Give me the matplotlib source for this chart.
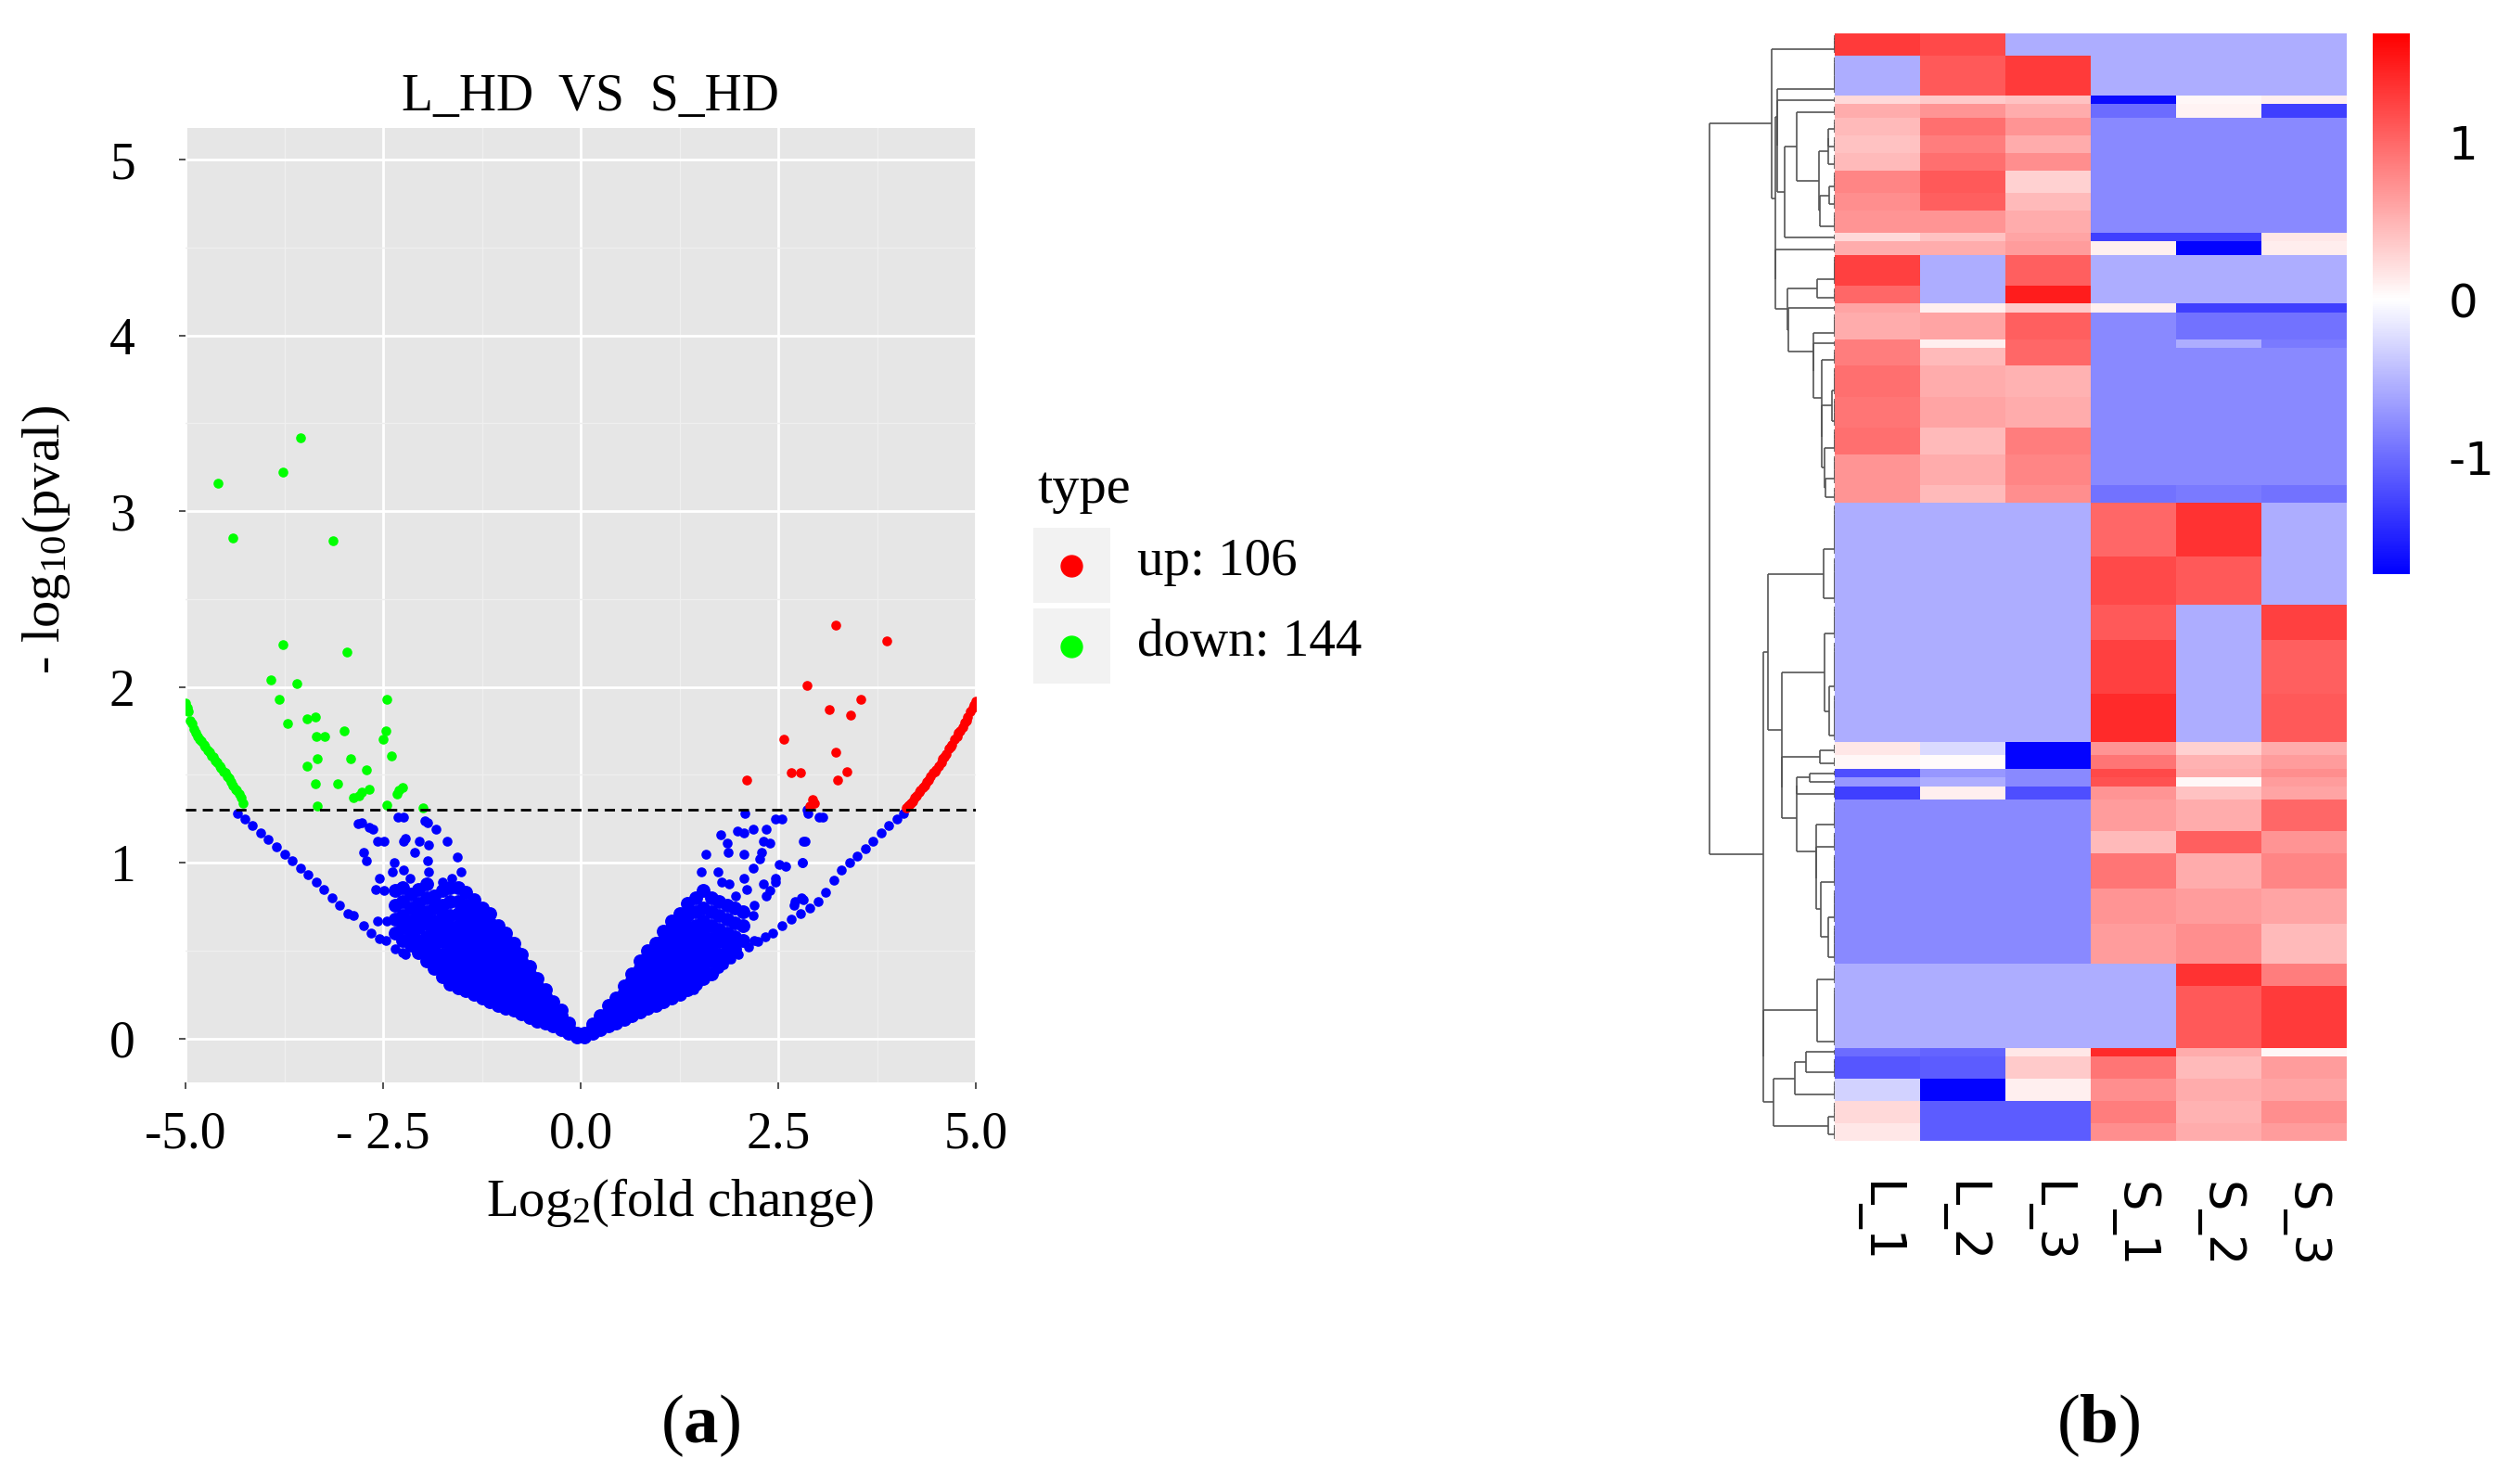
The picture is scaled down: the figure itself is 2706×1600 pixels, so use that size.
import numpy as np
import matplotlib
matplotlib.use('Agg')
import matplotlib.pyplot as plt
from matplotlib.colors import LinearSegmentedColormap, Normalize
from matplotlib.collections import LineCollection
from matplotlib.patches import Rectangle
from matplotlib.lines import Line2D

plt.rcParams['font.family'] = ['Liberation Serif', 'DejaVu Serif']
plt.rcParams['mathtext.fontset'] = 'custom'
plt.rcParams['mathtext.rm'] = 'Liberation Serif'
plt.rcParams['mathtext.it'] = 'Liberation Serif:italic'
plt.rcParams['mathtext.bf'] = 'Liberation Serif:bold'
plt.rcParams['axes.unicode_minus'] = False

# ---------------- volcano data ----------------
n_up, n_down = 106, 144
threshold = 1.301

down_x = [-4.59, -4.40, -3.77, -3.54, -3.13, -3.77, -2.96, -3.92, -3.59, -2.45, -3.82, -3.71,
          -3.46, -3.36, -3.34, -3.24, -2.99, -2.46, -2.50, -2.40, -3.46, -3.33, -2.91, -2.71,
          -3.36, -3.08, -2.87, -2.80, -2.77, -2.68, -2.45, -2.32, -2.30, -2.25, -3.33, -2.00]
down_y = [3.16, 2.85, 3.22, 3.42, 2.83, 2.24, 2.20, 2.04, 2.02, 1.93, 1.93, 1.79,
          1.82, 1.83, 1.72, 1.72, 1.75, 1.75, 1.70, 1.61, 1.55, 1.59, 1.59, 1.53,
          1.45, 1.45, 1.37, 1.38, 1.40, 1.42, 1.33, 1.39, 1.41, 1.43, 1.32, 1.31]
down_arc_x = [-5.00, -4.98, -4.97, -4.94, -4.92, -4.90, -4.87, -4.85, -4.82, -4.80, -4.77, -4.75,
              -4.72, -4.70, -4.67, -4.65, -4.62, -4.60, -4.57, -4.55, -4.52, -4.50, -4.47,
              -4.45, -4.42, -4.40, -4.37, -4.35, -4.32, -4.30, -4.27]
down_arc_y = [1.91, 1.88, 1.86, 1.81, 1.79, 1.76, 1.74, 1.72, 1.70, 1.69, 1.67, 1.66,
              1.64, 1.63, 1.61, 1.60, 1.58, 1.57, 1.55, 1.54, 1.52, 1.51, 1.49,
              1.48, 1.46, 1.44, 1.42, 1.41, 1.39, 1.37, 1.34]

up_x = [3.23, 3.87, 2.86, 3.54, 3.15, 3.42, 2.57, 3.23, 2.67, 2.78, 3.37, 3.25, 2.10, 2.96, 2.90, 2.94]
up_y = [2.35, 2.26, 2.01, 1.93, 1.87, 1.84, 1.70, 1.63, 1.51, 1.51, 1.52, 1.47, 1.47, 1.34, 1.32, 1.36]
up_arc_x = [4.12, 4.14, 4.16, 4.18, 4.20, 4.23, 4.25, 4.28, 4.30, 4.33, 4.36, 4.38, 4.40, 4.43,
            4.46, 4.48, 4.50, 4.53, 4.56, 4.58, 4.60, 4.63, 4.66, 4.68, 4.70, 4.73, 4.76,
            4.78, 4.80, 4.83, 4.86, 4.88, 4.90, 4.93, 4.96, 4.98, 5.00]
up_arc_y = [1.31, 1.32, 1.33, 1.34, 1.35, 1.37, 1.38, 1.40, 1.41, 1.43, 1.44, 1.46, 1.47, 1.49,
            1.51, 1.52, 1.53, 1.55, 1.57, 1.59, 1.60, 1.62, 1.65, 1.66, 1.67, 1.70, 1.72,
            1.74, 1.75, 1.77, 1.80, 1.81, 1.83, 1.86, 1.88, 1.90, 1.92]

# dense blue cones, one list of y values per x column
cone_left_x = [-0.05, -0.15, -0.25, -0.35, -0.45, -0.55, -0.65, -0.75, -0.85, -0.95, -1.05, -1.15,
               -1.25, -1.35, -1.45, -1.55, -1.65, -1.75, -1.85, -1.95, -2.05, -2.15, -2.25, -2.35]
cone_left_y = [
    [0.01, 0.03],
    [0.03, 0.06, 0.09],
    [0.05, 0.09, 0.13, 0.16],
    [0.07, 0.11, 0.16, 0.21],
    [0.09, 0.14, 0.19, 0.24, 0.28],
    [0.10, 0.15, 0.20, 0.25, 0.30, 0.34],
    [0.12, 0.17, 0.22, 0.27, 0.32, 0.37, 0.41],
    [0.14, 0.19, 0.24, 0.29, 0.34, 0.39, 0.44, 0.48],
    [0.16, 0.21, 0.26, 0.31, 0.36, 0.41, 0.46, 0.51, 0.54],
    [0.17, 0.22, 0.27, 0.32, 0.37, 0.42, 0.47, 0.52, 0.57, 0.60],
    [0.19, 0.24, 0.29, 0.34, 0.39, 0.44, 0.49, 0.54, 0.59, 0.64],
    [0.21, 0.26, 0.31, 0.36, 0.41, 0.46, 0.51, 0.56, 0.61, 0.66, 0.71],
    [0.23, 0.28, 0.33, 0.38, 0.43, 0.48, 0.53, 0.58, 0.63, 0.68, 0.74],
    [0.25, 0.30, 0.35, 0.40, 0.45, 0.50, 0.55, 0.60, 0.66, 0.72, 0.79],
    [0.27, 0.32, 0.38, 0.44, 0.50, 0.56, 0.62, 0.69, 0.76, 0.83],
    [0.29, 0.34, 0.40, 0.46, 0.52, 0.58, 0.64, 0.71, 0.78, 0.86],
    [0.31, 0.37, 0.43, 0.50, 0.57, 0.63, 0.70, 0.78, 0.86],
    [0.35, 0.41, 0.48, 0.55, 0.62, 0.69, 0.76, 0.84],
    [0.40, 0.46, 0.53, 0.60, 0.67, 0.74, 0.81],
    [0.44, 0.51, 0.58, 0.65, 0.72, 0.80, 0.88],
    [0.49, 0.56, 0.63, 0.70, 0.77, 0.85],
    [0.53, 0.60, 0.67, 0.74, 0.82],
    [0.56, 0.63, 0.70, 0.78, 0.86],
    [0.60, 0.68, 0.76, 0.84],
]
cone_right_x = [0.05, 0.15, 0.25, 0.35, 0.45, 0.55, 0.65, 0.75, 0.85, 0.95, 1.05,
                1.15, 1.25, 1.35, 1.45, 1.55, 1.65, 1.75, 1.85, 1.95, 2.05]
cone_right_y = [
    [0.01, 0.03],
    [0.03, 0.06, 0.08],
    [0.05, 0.09, 0.13],
    [0.07, 0.11, 0.15, 0.19],
    [0.09, 0.13, 0.18, 0.23],
    [0.11, 0.16, 0.21, 0.26, 0.30],
    [0.13, 0.18, 0.23, 0.28, 0.33, 0.37],
    [0.15, 0.20, 0.25, 0.30, 0.35, 0.40, 0.44],
    [0.17, 0.22, 0.27, 0.32, 0.37, 0.42, 0.47, 0.50],
    [0.19, 0.24, 0.29, 0.34, 0.39, 0.44, 0.49, 0.54],
    [0.21, 0.26, 0.31, 0.36, 0.41, 0.46, 0.51, 0.56, 0.61],
    [0.23, 0.28, 0.33, 0.38, 0.43, 0.48, 0.53, 0.58, 0.63, 0.67],
    [0.25, 0.30, 0.35, 0.40, 0.45, 0.50, 0.55, 0.60, 0.65, 0.71],
    [0.28, 0.33, 0.38, 0.43, 0.48, 0.53, 0.58, 0.63, 0.70, 0.77],
    [0.31, 0.36, 0.41, 0.46, 0.52, 0.58, 0.64, 0.72, 0.80],
    [0.34, 0.40, 0.46, 0.53, 0.60, 0.67, 0.74, 0.84],
    [0.37, 0.44, 0.50, 0.57, 0.64, 0.72, 0.80],
    [0.42, 0.48, 0.55, 0.62, 0.70, 0.78],
    [0.46, 0.53, 0.60, 0.68, 0.76],
    [0.51, 0.58, 0.66, 0.74],
    [0.56, 0.64, 0.72],
]
# scattered non-significant genes and the two "zero count" arcs
ns_x = [-2.77, -2.63, -2.57, -2.49, -2.75, -2.71, -2.24, -2.24, -2.04, -2.10, -1.94, -1.83,
        -1.69, -1.56, -1.94, -2.36, -2.38, -2.24, -2.16, -2.55, -2.59, -2.49, -1.92, -1.75,
        -1.63, -1.51, -2.57, -2.45, -2.10, -1.96, -2.82, -2.68, -2.31, -2.22, -1.97, -1.93,
        2.08, 1.77, 1.98, 2.06, 2.18, 2.35, 2.47, 2.55, 1.85, 1.87, 1.59, 2.06, 2.31, 2.39,
        2.29, 2.27, 1.53, 1.74, 1.78, 2.18, 2.51, 2.59, 2.47, 2.47, 2.31, 2.06, 1.88, 1.96,
        2.10, 2.39, 2.35, 2.82, 2.80, 2.70, 2.82, 3.02, 2.86, 2.20, 2.18, 2.20, 1.43, 1.69,
        2.88, 3.06, 2.84, 2.81, 2.71, 2.79]
ns_y = [1.23, 1.19, 1.12, 1.12, 1.06, 1.01, 1.26, 1.12, 1.12, 1.06, 1.23, 1.19,
        1.12, 1.03, 1.01, 1.00, 0.95, 0.96, 0.91, 0.91, 0.85, 0.84, 0.95, 0.89,
        0.91, 0.95, 0.67, 0.67, 0.52, 0.52, 1.22, 1.20, 1.26, 1.14, 1.24, 1.10,
        1.28, 1.16, 1.18, 1.17, 1.19, 1.19, 1.25, 1.25, 1.11, 1.06, 1.05, 1.05, 1.12, 1.11,
        1.06, 1.02, 0.95, 0.95, 0.89, 0.97, 0.99, 0.98, 0.91, 0.89, 0.88, 0.91, 0.88, 0.81,
        0.85, 0.84, 0.81, 1.12, 1.00, 0.76, 0.79, 1.26, 1.30, 0.76, 0.70, 0.56, 0.28, 0.58,
        1.28, 1.26, 1.12, 1.00, 0.78, 0.80]
arc_left_x = [-4.34, -4.25, -4.15, -4.05, -3.95, -3.85, -3.75, -3.65, -3.55, -3.45, -3.35,
              -3.25, -3.15, -3.05, -2.95, -2.87, -2.75, -2.65, -2.55, -2.47, -2.35, -2.25, -2.22]
arc_left_y = [1.28, 1.25, 1.21, 1.17, 1.13, 1.09, 1.05, 1.01, 0.97, 0.93, 0.89,
              0.85, 0.80, 0.76, 0.71, 0.70, 0.64, 0.60, 0.57, 0.56, 0.51, 0.49, 0.48]
arc_right_x = [1.69, 1.75, 1.81, 1.90, 2.00, 2.12, 2.24, 2.34, 2.43, 2.55, 2.67, 2.78, 2.90,
               3.00, 3.10, 3.20, 3.30, 3.40, 3.50, 3.60, 3.70, 3.80, 3.90, 4.00, 4.08]
arc_right_y = [0.38, 0.40, 0.42, 0.45, 0.48, 0.52, 0.55, 0.58, 0.60, 0.64, 0.68, 0.71, 0.74,
               0.78, 0.83, 0.90, 0.96, 1.00, 1.04, 1.08, 1.12, 1.17, 1.21, 1.25, 1.28]

x_ticks = [-5.0, -2.5, 0.0, 2.5, 5.0]
x_tick_labels = ['-5.0', '- 2.5', '0.0', '2.5', '5.0']
y_ticks = [0, 1, 2, 3, 4, 5]

# ---------------- heatmap data: row bands (row count, L_1..S_3) ----------------
samples = ['L_1', 'L_2', 'L_3', 'S_1', 'S_2', 'S_3']
band_rows = [5, 9, 2, 3, 4, 4, 4, 5, 4, 5, 2, 3, 7, 4, 2, 6, 2, 4, 7, 7, 6, 7, 4,
             12, 11, 8, 12, 11, 3, 3, 2, 2, 3, 7, 5, 8, 8, 9, 5, 14, 2, 5, 5, 5, 4]
band_values = [
    [1.30, 1.20, -0.55, -0.55, -0.55, -0.55],
    [-0.55, 1.10, 1.30, -0.55, -0.55, -0.55],
    [0.25, 0.35, 0.40, -1.65, 0.05, 0.10],
    [0.55, 0.70, 0.55, -1.00, 0.08, -1.30],
    [0.45, 0.95, 0.70, -0.80, -0.80, -0.80],
    [0.40, 0.85, 0.55, -0.80, -0.80, -0.80],
    [0.45, 0.95, 0.75, -0.80, -0.80, -0.80],
    [0.80, 1.10, 0.30, -0.80, -0.80, -0.80],
    [0.75, 1.05, 0.45, -0.80, -0.80, -0.80],
    [0.70, 0.70, 0.55, -0.80, -0.80, -0.80],
    [0.25, 0.40, 0.60, -1.30, -1.30, 0.15],
    [0.55, 0.55, 0.65, 0.10, -1.70, 0.12],
    [1.25, -0.55, 1.05, -0.55, -0.55, -0.55],
    [1.00, -0.55, 1.50, -0.55, -0.55, -0.55],
    [0.60, 0.10, 0.35, 0.10, -1.30, -1.30],
    [0.55, 0.60, 1.05, -0.80, -0.95, -0.95],
    [0.85, 0.10, 1.00, -0.80, -0.55, -0.90],
    [0.85, 0.45, 1.00, -0.80, -0.80, -0.80],
    [0.95, 0.55, 0.50, -0.80, -0.80, -0.80],
    [0.90, 0.60, 0.55, -0.80, -0.80, -0.80],
    [0.95, 0.45, 0.85, -0.80, -0.80, -0.80],
    [0.70, 0.55, 0.80, -0.80, -0.80, -0.80],
    [0.70, 0.45, 0.75, -0.95, -0.90, -0.95],
    [-0.55, -0.55, -0.55, 1.00, 1.35, -0.55],
    [-0.55, -0.55, -0.55, 1.20, 1.10, -0.55],
    [-0.55, -0.55, -0.55, 1.10, -0.55, 1.25],
    [-0.55, -0.55, -0.55, 1.25, -0.55, 1.05],
    [-0.55, -0.55, -0.55, 1.40, -0.55, 1.10],
    [0.15, -0.25, -1.70, 0.70, 0.30, 0.55],
    [0.05, 0.02, -1.70, 0.90, 0.50, 0.65],
    [-1.20, -0.70, -0.80, 1.20, 0.55, 0.75],
    [-0.70, -0.55, -0.80, 1.15, 0.05, 0.65],
    [-1.30, 0.10, -1.20, 0.70, 0.40, 0.60],
    [-0.80, -0.80, -0.80, 0.65, 0.55, 1.00],
    [-0.80, -0.80, -0.80, 0.45, 1.05, 0.70],
    [-0.80, -0.80, -0.80, 0.90, 0.55, 0.80],
    [-0.80, -0.80, -0.80, 0.70, 0.65, 0.60],
    [-0.80, -0.80, -0.80, 0.65, 0.75, 0.45],
    [-0.55, -0.55, -0.55, -0.55, 1.35, 0.85],
    [-0.55, -0.55, -0.55, -0.55, 1.10, 1.30],
    [-1.00, -1.05, 0.15, 1.40, 0.55, 0.05],
    [-1.15, -1.10, 0.35, 0.90, 0.45, 0.65],
    [-0.30, -1.70, 0.10, 0.75, 0.55, 0.60],
    [0.25, -1.10, -1.10, 0.85, 0.50, 0.75],
    [0.15, -1.10, -1.10, 0.75, 0.55, 0.65],
]
cbar_min, cbar_max = -1.74, 1.69

# ---------------- figure ----------------
W, H = 2706, 1600


def fx(px):
    return px / W


def fy(py):
    return 1 - py / H


fig = plt.figure(figsize=(W / 100, H / 100), dpi=100)

# (a) volcano plot
ax = fig.add_axes([fx(200), fy(1167), fx(1052) - fx(200), fy(138) - fy(1167)])
ax.set_facecolor('#E6E6E6')
ax.set_xlim(-5, 5)
ax.set_ylim(-0.25, 5.18)
ax.set_xticks(x_ticks)
ax.set_xticklabels(x_tick_labels)
ax.set_yticks(y_ticks)
ax.set_xticks([-3.75, -1.25, 1.25, 3.75], minor=True)
ax.set_yticks([0.5, 1.5, 2.5, 3.5, 4.5], minor=True)
ax.grid(which='major', color='white', lw=2)
ax.grid(which='minor', color='#EFEFEF', lw=1)
ax.set_axisbelow(True)
for s in ax.spines.values():
    s.set_visible(False)
ax.tick_params(which='major', length=5, width=1.2, color='#333333', labelsize=40)
ax.tick_params(which='minor', length=0)
ax.tick_params(axis='x', pad=17)
ax.tick_params(axis='y', pad=34)

cone_x = [x for x, ys in zip(cone_left_x + cone_right_x, cone_left_y + cone_right_y) for _ in ys]
cone_y = [y for ys in cone_left_y + cone_right_y for y in ys]
blue_x = ns_x + arc_left_x + arc_right_x
blue_y = ns_y + arc_left_y + arc_right_y
dot = 58
# the dense cores hold thousands of overlapping genes: bigger dots close the gaps
ax.scatter(cone_x, cone_y, s=115, c='#0000FF', lw=0, zorder=3)
ax.scatter(blue_x, blue_y, s=dot, c='#0000FF', lw=0, zorder=3)
ax.scatter(down_x + down_arc_x, down_y + down_arc_y, s=dot, c='#00FF00', lw=0, zorder=4)
ax.scatter(up_x + up_arc_x, up_y + up_arc_y, s=dot, c='#FF0000', lw=0, zorder=4)
ax.axhline(threshold, color='black', lw=2, dashes=(4, 2.5), zorder=5)

fig.text(fx(636), fy(119), 'L_HD  VS  S_HD', fontsize=40, ha='center', va='baseline')
fig.text(fx(733), fy(1311), r'Log$_2$(fold change)', fontsize=41, ha='center', va='baseline')
fig.text(fx(50), fy(582), r'- log$_{10}$(pval)', fontsize=42, rotation=90, ha='center', va='center')

# legend
fig.text(fx(1118), fy(542), 'type', fontsize=42, ha='left', va='baseline')
legend_labels = [f'up: {n_up}', f'down: {n_down}']
legend_colors = ['#FF0000', '#00FF00']
for i, (lab, col) in enumerate(zip(legend_labels, legend_colors)):
    top = 569 + i * 87
    fig.add_artist(Rectangle((fx(1114), fy(top + 81)), fx(1197) - fx(1114), fy(top) - fy(top + 81),
                             transform=fig.transFigure, color='#F2F2F2', lw=0))
    fig.add_artist(Line2D([fx(1155)], [fy(top + 41)], marker='o', ms=16.5, color=col, lw=0,
                          transform=fig.transFigure))
    fig.text(fx(1226), fy(top + 51), lab, fontsize=41, ha='left', va='baseline')

# (b) heatmap
heat = np.repeat(np.array(band_values), band_rows, axis=0)
n_rows = heat.shape[0]
cmap = LinearSegmentedColormap.from_list(
    'bwr_custom', [(0, '#0000FF'), (-cbar_min / (cbar_max - cbar_min), '#FFFFFF'), (1, '#FF0000')])
norm = Normalize(cbar_min, cbar_max)

hm_bottom, hm_top = 1230, 36
ax_hm = fig.add_axes([fx(1978), fy(hm_bottom), fx(2530) - fx(1978), fy(hm_top) - fy(hm_bottom)])
im = ax_hm.imshow(heat, cmap=cmap, norm=norm, aspect='auto', interpolation='nearest',
                  extent=(-0.5, 5.5, n_rows, 0))
ax_hm.set_xticks(range(len(samples)))
ax_hm.set_xticklabels(samples, rotation=-90, fontsize=38, fontfamily='DejaVu Sans')
ax_hm.set_yticks([])
ax_hm.tick_params(length=0, pad=32)
for s in ax_hm.spines.values():
    s.set_visible(False)

# row dendrogram: average linkage, merging neighbouring rows only
dist = np.sqrt(((heat[:, None, :] - heat[None, :, :]) ** 2).sum(axis=2))
clusters = [[i, i + 1, i + 0.5, 0.0] for i in range(n_rows)]
segments = []
while len(clusters) > 1:
    scores = [dist[a[0]:a[1], b[0]:b[1]].mean() for a, b in zip(clusters[:-1], clusters[1:])]
    k = int(np.argmin(scores))
    a, b = clusters[k], clusters[k + 1]
    h = max(scores[k], a[3], b[3])
    segments += [[(a[3], a[2]), (h, a[2])], [(h, a[2]), (h, b[2])], [(h, b[2]), (b[3], b[2])]]
    clusters[k:k + 2] = [[a[0], b[1], (a[2] + b[2]) / 2, h]]
root_h = clusters[0][3]

ax_d = fig.add_axes([fx(1842), fy(hm_bottom), fx(1978) - fx(1842), fy(hm_top) - fy(hm_bottom)])
ax_d.add_collection(LineCollection(segments, colors='#555555', linewidths=1.2))
ax_d.set_xlim(root_h * 1.01, 0)
ax_d.set_ylim(n_rows, 0)
ax_d.axis('off')

# colour bar
cax = fig.add_axes([fx(2558), fy(619), fx(2598) - fx(2558), fy(36) - fy(619)])
cb = fig.colorbar(im, cax=cax)
cb.outline.set_visible(False)
cb.set_ticks([1, 0, -1])
cb.set_ticklabels(['1', '0', '-1'])
cax.tick_params(length=0, pad=30, labelsize=36)
for t in cax.get_yticklabels():
    t.set_fontfamily('DejaVu Sans')

# panel letters
fig.text(fx(755), fy(1537), r'($\mathbf{a}$)', fontsize=54, ha='center', va='center')
fig.text(fx(2262), fy(1537), r'($\mathbf{b}$)', fontsize=54, ha='center', va='center')

fig.savefig('out.png', dpi=100)
